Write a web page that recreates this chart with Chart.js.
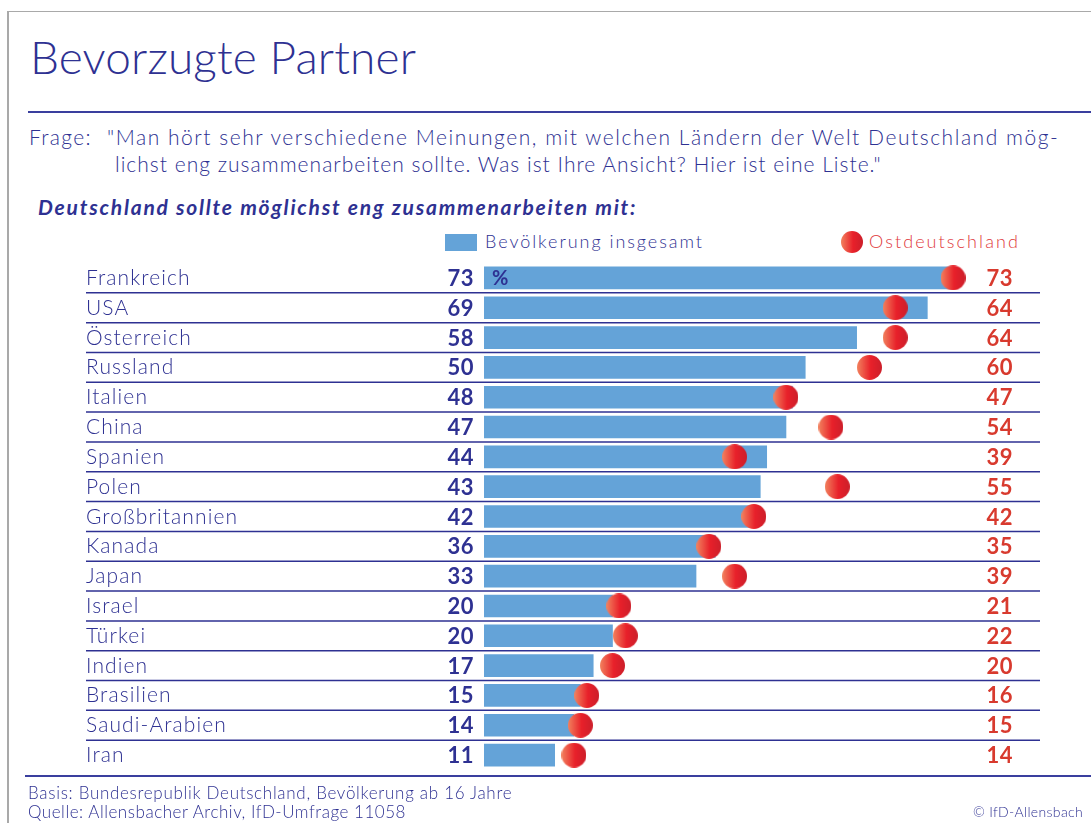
<!DOCTYPE html>
<html>
<head>
<meta charset="utf-8">
<script src="https://cdn.jsdelivr.net/npm/chart.js@4"></script>
<style>
  body { margin: 0; background: #fff; }
  #page { position: relative; width: 1091px; height: 823px; overflow: hidden; font-family: Lato, sans-serif; color: #2e3192; font-weight: 300; }
  #page div.t { position: absolute; line-height: 1; white-space: pre; }
  #chartBox { position: absolute; left: 0; top: 0; width: 1091px; height: 823px; }
</style>
</head>
<body>
<div id="page">
  <div style="position:absolute;left:7px;top:11px;width:2px;height:812px;background:#a9a9a9"></div>
  <div style="position:absolute;left:7px;top:11px;width:1084px;height:1px;background:#a9a9a9"></div>
  <div class="t" data-w="386" style="left:30px;top:34px;font-size:46px">Bevorzugte Partner</div>
  <div style="position:absolute;left:28px;top:111px;width:1063px;height:1.5px;background:#3a3f9e"></div>
  <div class="t" data-w="63" style="left:29px;top:126px;font-size:21px">Frage:</div>
  <div class="t" data-w="952" style="left:107px;top:126px;font-size:21px">"Man hört sehr verschiedene Meinungen, mit welchen Ländern der Welt Deutschland mög-</div>
  <div class="t" data-w="767" style="left:115px;top:153px;font-size:21px">lichst eng zusammenarbeiten sollte. Was ist Ihre Ansicht? Hier ist eine Liste."</div>
  <div class="t" data-w="599" style="left:38px;top:196px;font-size:21px;font-weight:bold;font-style:italic">Deutschland sollte möglichst eng zusammenarbeiten mit:</div>
  <div style="position:absolute;left:445px;top:234px;width:32px;height:17px;background:#64a3d8"></div>
  <div class="t" data-w="219" style="left:485px;top:232px;font-size:18px">Bevölkerung insgesamt</div>
  <div style="position:absolute;left:841px;top:231px;width:22px;height:22px;border-radius:50%;background:linear-gradient(to right,#f2825e,#e8202a 55%,#cc1f2a)"></div>
  <div class="t" data-w="151" style="left:869px;top:232px;font-size:18px;color:#e0383a">Ostdeutschland</div>
  <div id="chartBox"><canvas id="chart"></canvas></div>
  <div style="position:absolute;left:25px;top:775px;width:1066px;height:1.5px;background:#3a3f9e"></div>
  <div class="t" data-w="484" style="left:28px;top:784px;font-size:17px">Basis: Bundesrepublik Deutschland, Bevölkerung ab 16 Jahre</div>
  <div class="t" data-w="378" style="left:28px;top:803px;font-size:17px">Quelle: Allensbacher Archiv, IfD-Umfrage 11058</div>
  <div class="t" data-w="110" style="right:8px;top:805px;font-size:14px">© IfD-Allensbach</div>
</div>
<script>
const countries = ['Frankreich', 'USA', 'Österreich', 'Russland', 'Italien', 'China', 'Spanien', 'Polen',
  'Großbritannien', 'Kanada', 'Japan', 'Israel', 'Türkei', 'Indien', 'Brasilien', 'Saudi-Arabien', 'Iran'];
const totalValues = [73, 69, 58, 50, 48, 47, 44, 43, 42, 36, 33, 20, 20, 17, 15, 14, 11];
const eastValues = [73, 64, 64, 60, 47, 54, 39, 55, 42, 35, 39, 21, 22, 20, 16, 15, 14];

const NAVY = '#2e3192';
const RED = '#d83a2e';

// stretch the html texts to the widths of the original lettering
document.querySelectorAll('[data-w]').forEach(function(el) {
  const w = el.getBoundingClientRect().width;
  const n = el.textContent.length;
  el.style.letterSpacing = ((+el.dataset.w - w) / n).toFixed(2) + 'px';
});

function makeDot(d) {
  const c = document.createElement('canvas');
  c.width = d; c.height = d;
  const g = c.getContext('2d');
  const grad = g.createLinearGradient(0, 0, d, 0);
  grad.addColorStop(0, '#f2825e');
  grad.addColorStop(0.55, '#e8202a');
  grad.addColorStop(1, '#cc1f2a');
  g.fillStyle = grad;
  g.beginPath();
  g.arc(d / 2, d / 2, d / 2, 0, Math.PI * 2);
  g.fill();
  return c;
}

const rowText = {
  id: 'rowText',
  beforeDatasetsDraw(chart) {
    const ctx = chart.ctx, y = chart.scales.y;
    ctx.save();
    ctx.strokeStyle = NAVY;
    ctx.lineWidth = 1.5;
    for (let i = 0; i < countries.length - 1; i++) {
      const py = (y.getPixelForValue(i) + y.getPixelForValue(i + 1)) / 2;
      ctx.beginPath();
      ctx.moveTo(86, py);
      ctx.lineTo(1040, py);
      ctx.stroke();
    }
    ctx.restore();
  },
  afterDatasetsDraw(chart) {
    const ctx = chart.ctx, y = chart.scales.y, x = chart.scales.x;
    ctx.save();
    ctx.textBaseline = 'alphabetic';
    countries.forEach(function(c, i) {
      const py = y.getPixelForValue(i) + 8;
      ctx.textAlign = 'left';
      ctx.fillStyle = NAVY;
      ctx.font = '300 21px Lato';
      ctx.letterSpacing = '1.1px';
      ctx.fillText(c, 86, py - 1);
      ctx.letterSpacing = '0.5px';
      ctx.textAlign = 'right';
      ctx.font = 'bold 22px Lato';
      ctx.fillText(totalValues[i], x.left - 10, py);
      ctx.fillStyle = RED;
      ctx.fillText(eastValues[i], 1013, py);
    });
    ctx.letterSpacing = '0px';
    ctx.textAlign = 'left';
    ctx.fillStyle = NAVY;
    ctx.font = 'bold 20px Lato';
    ctx.fillText('%', x.left + 8, y.getPixelForValue(0) + 7);
    ctx.restore();
  }
};

new Chart(document.getElementById('chart'), {
  type: 'bar',
  data: {
    labels: countries,
    datasets: [
      {
        type: 'line',
        indexAxis: 'y',
        data: eastValues,
        showLine: false,
        pointStyle: makeDot(25),
        pointRadius: 12.5,
        clip: false,
        order: 1
      },
      {
        data: totalValues,
        backgroundColor: '#64a3d8',
        barThickness: 22,
        order: 2
      }
    ]
  },
  options: {
    indexAxis: 'y',
    responsive: true,
    maintainAspectRatio: false,
    animation: false,
    events: [],
    layout: { padding: { left: 86, right: 93, top: 263, bottom: 53 } },
    plugins: { legend: { display: false }, tooltip: { enabled: false } },
    scales: {
      x: { min: 0, max: 80, display: false },
      y: {
        grid: { display: false },
        border: { display: false },
        ticks: { display: false },
        afterFit(scale) { scale.width = 398; }
      }
    }
  },
  plugins: [rowText]
});
</script>
</body>
</html>
